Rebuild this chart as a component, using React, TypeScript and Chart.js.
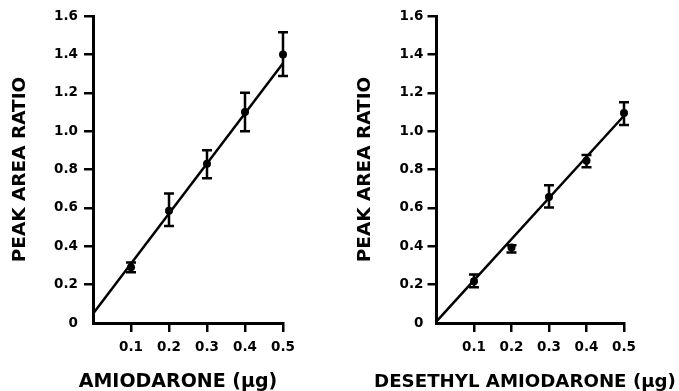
import React, { useEffect, useRef } from "react";
import { Chart, registerables } from "chart.js";

Chart.register(...registerables);

// ---- data ----
const doseX = [0.1, 0.2, 0.3, 0.4, 0.5];

const amioY = [0.29, 0.585, 0.83, 1.1, 1.4];
const amioLow = [0.265, 0.505, 0.755, 1.0, 1.287];
const amioHigh = [0.315, 0.675, 0.9, 1.2, 1.515];
const amioFitX = [0, 0.5];
const amioFitY = [0.048, 1.354];

const desY = [0.218, 0.393, 0.657, 0.845, 1.095];
const desLow = [0.186, 0.367, 0.602, 0.812, 1.032];
const desHigh = [0.253, 0.405, 0.718, 0.876, 1.15];
const desFitX = [0, 0.5];
const desFitY = [0.008, 1.08];

const yTicks = [0, 0.2, 0.4, 0.6, 0.8, 1.0, 1.2, 1.4, 1.6];
const xTicks = [0, 0.1, 0.2, 0.3, 0.4, 0.5];

const yTitle = "PEAK AREA RATIO";
const amioTitle = "AMIODARONE (\u00b5g)";
const desTitle = "DESETHYL AMIODARONE (\u00b5g)";

const FONT = "'DejaVu Sans', sans-serif";

const errorBarPlugin = {
  id: "errorBars",
  afterDatasetsDraw(chart: any, _args: any, opts: any) {
    const { ctx } = chart;
    const xs = chart.scales.x;
    const ys = chart.scales.y;
    ctx.save();
    ctx.strokeStyle = "#000";
    ctx.lineWidth = 2.5;
    opts.xs.forEach((xv: number, i: number) => {
      const px = xs.getPixelForValue(xv);
      const lo = ys.getPixelForValue(opts.low[i]);
      const hi = ys.getPixelForValue(opts.high[i]);
      ctx.beginPath();
      ctx.moveTo(px, lo);
      ctx.lineTo(px, hi);
      ctx.moveTo(px - 5, lo);
      ctx.lineTo(px + 5, lo);
      ctx.moveTo(px - 5, hi);
      ctx.lineTo(px + 5, hi);
      ctx.stroke();
    });
    ctx.restore();
  },
};

const xTitlePlugin = {
  id: "xTitle",
  afterDraw(chart: any, _args: any, opts: any) {
    const { ctx } = chart;
    ctx.save();
    ctx.fillStyle = "#000";
    ctx.font = `bold ${opts.size}px ${FONT}`;
    ctx.textAlign = "center";
    ctx.textBaseline = "middle";
    ctx.fillText(opts.text, opts.x, opts.y);
    ctx.restore();
  },
};

type PanelProps = {
  ys: number[];
  low: number[];
  high: number[];
  fitX: number[];
  fitY: number[];
  xTitle: string;
  xTitleSize: number;
  xTitleX: number;
  areaLeft: number;
  areaRight: number;
  yTitleOffset: number;
  yLabelPad: number;
  width: number;
  left: number;
};

function Panel(p: PanelProps) {
  const ref = useRef<HTMLCanvasElement>(null);
  useEffect(() => {
    if (!ref.current) return;
    const hideZero = (c: any) => (c.tick && c.tick.value === 0 ? "rgba(0,0,0,0)" : "#000");
    const chart = new Chart(ref.current, {
      type: "scatter",
      data: {
        datasets: [
          {
            data: doseX.map((x, i) => ({ x, y: p.ys[i] })),
            pointRadius: 4,
            pointBackgroundColor: "#000",
            pointBorderColor: "#000",
            pointBorderWidth: 0,
            showLine: false,
            clip: false,
          },
          {
            data: p.fitX.map((x, i) => ({ x, y: p.fitY[i] })),
            showLine: true,
            borderColor: "#000",
            borderWidth: 2.5,
            pointRadius: 0,
            clip: false,
          },
        ],
      },
      options: {
        animation: false,
        responsive: false,
        events: [],
        layout: { padding: { left: 0, right: p.width - p.areaRight, top: 16, bottom: 0 } },
        plugins: {
          legend: { display: false },
          tooltip: { enabled: false },
          errorBars: { xs: doseX, low: p.low, high: p.high },
          xTitle: { text: p.xTitle, size: p.xTitleSize, x: p.xTitleX, y: 382 },
        } as any,
        scales: {
          x: {
            type: "linear",
            min: 0,
            max: 0.5,
            afterBuildTicks: (s: any) => {
              s.ticks = xTicks.map((v) => ({ value: v }));
            },
            afterFit: (s: any) => {
              s.height = 391 - 323;
            },
            border: { display: true, color: "#000", width: 3 },
            grid: {
              drawOnChartArea: false,
              drawTicks: true,
              tickLength: 9,
              lineWidth: 2.5,
              tickColor: hideZero,
              color: "#000",
            },
            ticks: {
              color: "#000",
              padding: 7,
              font: { family: FONT, weight: "bold", size: 13.5 },
              callback: (v: any) => (Number(v) === 0 ? "" : Number(v).toFixed(1)),
              maxRotation: 0,
            },
            title: { display: false },
          },
          y: {
            type: "linear",
            min: 0,
            max: 1.6,
            afterBuildTicks: (s: any) => {
              s.ticks = yTicks.map((v) => ({ value: v }));
            },
            afterFit: (s: any) => {
              s.width = p.areaLeft;
            },
            border: { display: true, color: "#000", width: 3 },
            grid: {
              drawOnChartArea: false,
              drawTicks: true,
              tickLength: 9,
              lineWidth: 2.5,
              tickColor: hideZero,
              color: "#000",
            },
            ticks: {
              color: "#000",
              padding: p.yLabelPad,
              font: { family: FONT, weight: "bold", size: 13.5 },
              callback: (v: any) => (Number(v) === 0 ? "0" : Number(v).toFixed(1)),
            },
            title: {
              display: true,
              text: yTitle,
              color: "#000",
              font: { family: FONT, weight: "bold", size: 18.5, lineHeight: 1 },
              padding: { top: p.yTitleOffset - 9.25, bottom: 0 },
            },
          },
        },
      },
      plugins: [errorBarPlugin, xTitlePlugin],
    } as any);
    return () => chart.destroy();
  }, []);
  return (
    <canvas
      ref={ref}
      width={p.width}
      height={391}
      style={{ position: "absolute", left: p.left, top: 0, width: p.width, height: 391 }}
    />
  );
}

export default function App() {
  return (
    <div style={{ position: "fixed", left: 0, top: 0, width: 679, height: 391, background: "#fff" }}>
      <Panel
        ys={amioY}
        low={amioLow}
        high={amioHigh}
        fitX={amioFitX}
        fitY={amioFitY}
        xTitle={amioTitle}
        xTitleSize={19}
        xTitleX={178}
        areaLeft={93}
        areaRight={283}
        yTitleOffset={20}
        yLabelPad={6}
        width={340}
        left={0}
      />
      <Panel
        ys={desY}
        low={desLow}
        high={desHigh}
        fitX={desFitX}
        fitY={desFitY}
        xTitle={desTitle}
        xTitleSize={18.2}
        xTitleX={185}
        areaLeft={96.5}
        areaRight={284}
        yTitleOffset={25}
        yLabelPad={4}
        width={339}
        left={340}
      />
    </div>
  );
}
